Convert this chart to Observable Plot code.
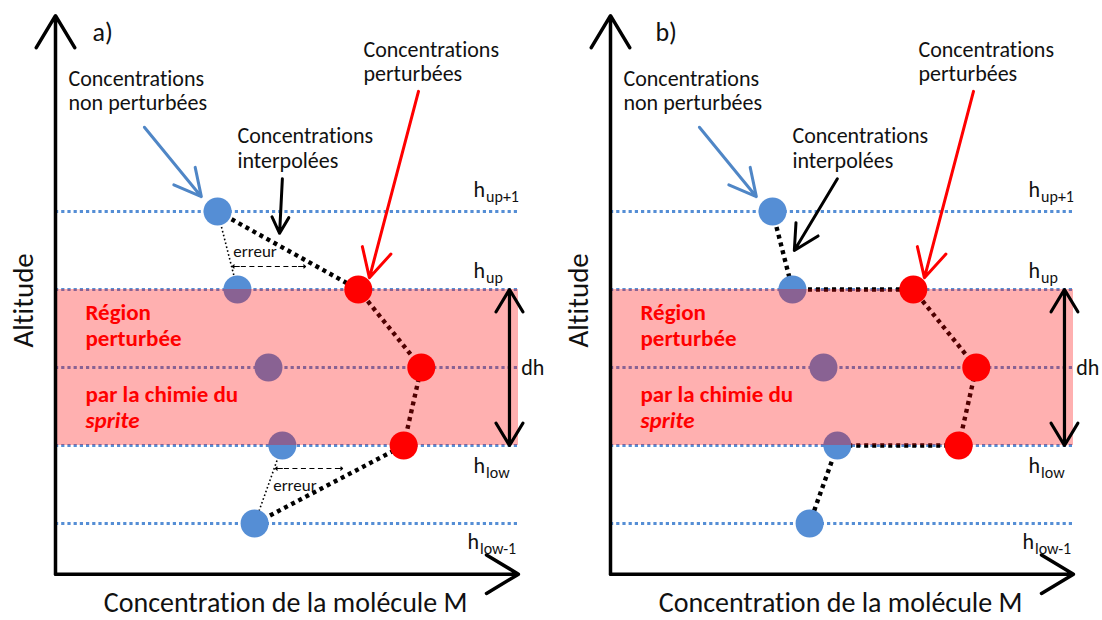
<!DOCTYPE html>
<html><head><meta charset="utf-8">
<script src="https://cdn.jsdelivr.net/npm/d3@7"></script>
<script src="https://cdn.jsdelivr.net/npm/@observablehq/plot@0.6"></script>
<style>
html,body{margin:0;padding:0;background:#fff;}
#wrap{position:relative;width:1102px;height:620px;overflow:hidden;}
#wrap svg{position:absolute;top:0;overflow:visible;font-variant-ligatures:none;}
#wrap svg text{font-variant-ligatures:none;}
</style></head><body><div id="wrap"></div>
<script>
// ---- data (concentration in arbitrary units 0-100, altitude as level index) ----
const levels = [1, 2, 3, 4, 5];                 // h_low-1, h_low, middle, h_up, h_up+1
const levelSubs = ["low-1", "low", "", "up", "up+1"];
const unperturbed = [43.0, 49.0, 46.0, 39.3, 35.0];
const perturbedLevels = [2, 3, 4];
const perturbed = [75.2, 79.0, 65.4];
const regionBottom = 2, regionTop = 4;
const panelNames = ["a)", "b)"];
// interpolation orders: [series, level]
const interpA = [["u", 5], ["p", 4], ["p", 3], ["p", 2], ["u", 1]];
const interpB = [["u", 5], ["u", 4], ["p", 4], ["p", 3], ["p", 2], ["u", 2], ["u", 1]];
// error illustration (panel a)
const errPairs = [[5, 4], [2, 1]];
const errY = [4.295, 1.705];
const errX1 = [38.2, 47.5];
const errX2 = [54.0, 62.0];
const errLabelX = [43.1, 51.7];
const errLabelY = [4.49, 1.49];
// annotation labels
const labelText = ["Concentrations\nnon perturbées", "Concentrations\nperturbées", "Concentrations\ninterpolées"];
const labelX = [2.8, 66.5, 39.3];
const labelY = [6.295, 6.67, 5.56];
// pointer arrows: blue, red, black (black differs per panel)
const pointerColor = ["#4f86c6", "#ff0000", "#000000"];
const pointerX1 = [19.2, 78.4, 49.0];
const pointerY1 = [6.08, 6.54, 5.42];
const pointerX2 = {a: [31.5, 67.8, 48.4], b: [31.5, 67.8, 39.7]};
const pointerY2 = {a: [5.19, 4.15, 4.72], b: [5.19, 4.15, 4.5]};
// level label positions
const hX = [89.0, 90.3, null, 90.3, 90.3];
const hY = [0.667, 1.65, null, 4.15, 5.18];

const FONT = "Carlito, Calibri, Lato, sans-serif";
const BLUE = "#558ed5";
const INK = "#111";

function pt(s, h) {
  if (s === "u") return {c: unperturbed[levels.indexOf(h)], h};
  return {c: perturbed[perturbedLevels.indexOf(h)], h};
}

function makePanel(idx, width) {
  const key = idx === 0 ? "a" : "b";
  const path = (key === "a" ? interpA : interpB).map(([s, h]) => pt(s, h));
  const blue = levels.map((h, i) => ({c: unperturbed[i], h}));
  const red = perturbedLevels.map((h, i) => ({c: perturbed[i], h}));
  const hLabels = levels.map((h, i) => ({sub: levelSubs[i], x: hX[i], y: hY[i]})).filter(d => d.sub);
  const pointers = pointerColor.map((col, i) => ({col, x1: pointerX1[i], y1: pointerY1[i], x2: pointerX2[key][i], y2: pointerY2[key][i]}));
  const labels = labelText.map((t, i) => ({t, x: labelX[i], y: labelY[i]}));
  const err = errPairs.map((p, i) => ({a: pt("u", p[0]), b: pt("u", p[1]), y: errY[i], x1: errX1[i], x2: errX2[i], lx: errLabelX[i], ly: errLabelY[i]}));
  const axisY = 0.35, axisTop = 7.51, axisRight = 100;

  const marks = [
    Plot.ruleY(levels, {y: d => d, x1: 0, x2: 100, stroke: BLUE, strokeWidth: 3.2, strokeDasharray: "3.2,3", strokeLinecap: "butt"}),
    Plot.line(path, {x: "c", y: "h", stroke: "#000", strokeWidth: 4.4, strokeDasharray: "4,4", strokeLinecap: "butt", strokeLinejoin: "miter"}),
  ];
  if (key === "a") {
    marks.push(
      Plot.link(err, {x1: d => d.a.c, y1: d => d.a.h, x2: d => d.b.c, y2: d => d.b.h, stroke: "#000", strokeWidth: 1.6, strokeDasharray: "1.6,2.4", strokeLinecap: "butt"})
    );
  }
  marks.push(
    Plot.dot(blue, {x: "c", y: "h", r: 14, fill: BLUE}),
    Plot.rect([{x1: 0, x2: 100, y1: regionBottom, y2: regionTop}], {x1: "x1", x2: "x2", y1: "y1", y2: "y2", fill: "#ff0000", fillOpacity: 0.31}),
    Plot.dot(red, {x: "c", y: "h", r: 14, fill: "#ff0000"}),
    Plot.arrow([{x1: 0, y1: axisY, x2: 0, y2: axisTop}], {x1: "x1", y1: "y1", x2: "x2", y2: "y2", stroke: "#000", strokeWidth: 3.5, headLength: 16, headAngle: 62}),
    Plot.arrow([{x1: 0, y1: axisY, x2: axisRight, y2: axisY}], {x1: "x1", y1: "y1", x2: "x2", y2: "y2", stroke: "#000", strokeWidth: 3.5, headLength: 16, headAngle: 62}),
    Plot.arrow([regionTop, regionBottom], {x1: 98.05, y1: (regionTop + regionBottom) / 2, x2: 98.05, y2: d => d, stroke: "#000", strokeWidth: 3.2, headLength: 16, headAngle: 62}),
    Plot.arrow(pointers, {x1: "x1", y1: "y1", x2: "x2", y2: "y2", stroke: "col", strokeWidth: 3, headLength: 16, headAngle: 55})
  );
  if (key === "a") {
    marks.push(
      Plot.link(err, {x1: "x1", x2: "x2", y1: "y", y2: "y", stroke: "#000", strokeWidth: 1.2, strokeDasharray: "5,3.5", strokeLinecap: "butt"}),
      Plot.arrow(err, {x1: d => d.x1 + 1.5, x2: "x1", y1: "y", y2: "y", stroke: "#000", strokeWidth: 1.2, headLength: 9, headAngle: 80}),
      Plot.arrow(err, {x1: d => d.x2 - 1.5, x2: "x2", y1: "y", y2: "y", stroke: "#000", strokeWidth: 1.2, headLength: 9, headAngle: 80}),
      Plot.text(err, {x: "lx", y: "ly", text: () => "erreur", fontSize: 17, fontFamily: FONT, fill: INK, textAnchor: "middle", lineAnchor: "middle"})
    );
  }
  marks.push(
    Plot.text(labels, {x: "x", y: "y", text: "t", fontSize: 22, lineHeight: 1.12, fontFamily: FONT, fill: INK, textAnchor: "start", lineAnchor: "bottom"}),
    Plot.text(hLabels, {x: "x", y: "y", text: () => "h", fontSize: 22, fontFamily: FONT, fill: INK, textAnchor: "start", lineAnchor: "bottom"}),
    Plot.text(hLabels, {x: "x", y: "y", text: "sub", dx: 12.5, dy: 5, fontSize: 16, fontFamily: FONT, fill: INK, textAnchor: "start", lineAnchor: "bottom"}),
    Plot.text(["dh"], {x: 100.6, y: (regionTop + regionBottom) / 2, text: d => d, fontSize: 22, fontFamily: FONT, fill: INK, textAnchor: "start", lineAnchor: "middle"}),
    Plot.text(["Région\nperturbée"], {x: 6.48, y: 3.27, text: d => d, fontSize: 23, lineHeight: 1.17, fontWeight: "bold", fontFamily: FONT, fill: "#ff0000", textAnchor: "start", lineAnchor: "bottom"}),
    Plot.text(["par la chimie du"], {x: 6.48, y: 2.564, text: d => d, fontSize: 23, fontWeight: "bold", fontFamily: FONT, fill: "#ff0000", textAnchor: "start", lineAnchor: "bottom"}),
    Plot.text(["sprite"], {x: 6.48, y: 2.218, text: d => d, fontSize: 23, fontWeight: "bold", fontStyle: "italic", fontFamily: FONT, fill: "#ff0000", textAnchor: "start", lineAnchor: "bottom"}),
    Plot.text([panelNames[idx]], {x: key === "a" ? 8.0 : 9.7, y: 7.18, text: d => d, fontSize: 26, fontFamily: FONT, fill: INK, textAnchor: "start", lineAnchor: "bottom"}),
    Plot.text(["Concentration de la molécule M"], {x: 49.7, y: -0.141, text: d => d, fontSize: 28, fontFamily: FONT, fill: INK, textAnchor: "middle", lineAnchor: "bottom"}),
    Plot.text(["Altitude"], {x: -6.9, y: 3.86, text: d => d, rotate: -90, fontSize: 29, fontFamily: FONT, fill: INK, textAnchor: "middle", lineAnchor: "middle"})
  );

  return Plot.plot({
    width, height: 620,
    x: {domain: [0, 100], range: [55, 518], axis: null},
    y: {domain: [0, 8], range: [601, -23], axis: null},
    style: {background: "transparent", overflow: "visible"},
    marks
  });
}

const wrap = document.getElementById("wrap");
const svgA = makePanel(0, 555);
svgA.style.left = "0px";
wrap.appendChild(svgA);
const svgB = makePanel(1, 547);
svgB.style.left = "555px";
wrap.appendChild(svgB);
</script></body></html>
